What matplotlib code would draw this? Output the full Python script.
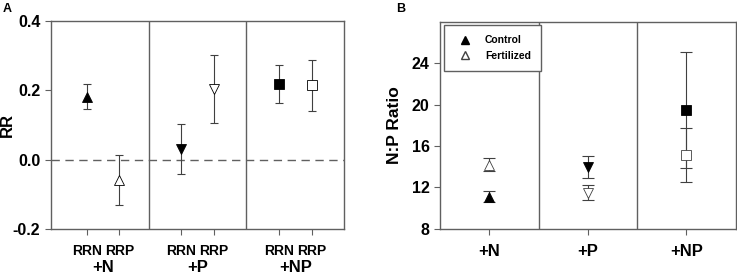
import numpy as np
import matplotlib
matplotlib.use("Agg")
import matplotlib.pyplot as plt
import matplotlib.transforms as mtransforms

plt.rcParams['font.family'] = ['Liberation Sans', 'DejaVu Sans']
plt.rcParams['font.weight'] = 'bold'

# Panel A data: response ratios
a_groups = ['+N', '+P', '+NP']
a_ticklabels = ['RRN', 'RRP', 'RRN', 'RRP', 'RRN', 'RRP']
a_pos = [1.1, 2.1, 4.0, 5.0, 7.0, 8.0]
a_vals = [0.182, -0.058, 0.031, 0.205, 0.218, 0.214]
a_err = [0.037, 0.072, 0.073, 0.098, 0.054, 0.073]
a_marker = ['^', '^', 'v', 'v', 's', 's']
a_fill = ['black', 'white', 'black', 'white', 'black', 'white']

# Panel B data: N:P ratio
b_groups = ['+N', '+P', '+NP']
b_pos = [0.5, 1.5, 2.5]
b_control = [11.1, 13.95, 19.45]
b_control_err = [0.55, 1.05, 5.6]
b_fert = [14.2, 11.5, 15.12]
b_fert_err = [0.6, 0.75, 2.6]
b_marker = ['^', 'v', 's']

gray = '#606060'

fig = plt.figure(figsize=(7.37, 2.76), dpi=100)
axA = fig.add_axes([0.069, 0.170, 0.398, 0.754])
axB = fig.add_axes([0.597, 0.171, 0.401, 0.750])

def style(ax):
    for s in ax.spines.values():
        s.set_color(gray)
        s.set_linewidth(1.0)
    ax.tick_params(axis='both', colors=gray, length=4, width=0.8, direction='out')
    ax.tick_params(axis='both', labelcolor='black')

# ---- A ----
style(axA)
for x, v, e, m, f in zip(a_pos, a_vals, a_err, a_marker, a_fill):
    axA.errorbar(x, v, yerr=e, fmt='none', ecolor='#404040', elinewidth=0.8,
                 capsize=3, capthick=0.8, zorder=2)
    axA.plot(x, v, marker=m, ms=7 if m != 's' else 6.5, mfc=f, mec='black',
             mew=0.6, ls='none', zorder=3)
axA.axhline(0, color=gray, ls=(0, (6, 4)), lw=1.0, zorder=1)
for d in [3, 6]:
    axA.axvline(d, color=gray, lw=1.0)
axA.set_xlim(0, 9)
axA.set_ylim(-0.2, 0.4)
axA.set_yticks([-0.2, 0.0, 0.2, 0.4])
axA.set_yticklabels(['-0.2', '0.0', '0.2', '0.4'], fontsize=11.5, fontweight='bold')
axA.set_xticks(a_pos)
axA.set_xticklabels(a_ticklabels, fontsize=10, fontweight='bold')
axA.tick_params(axis='x', pad=7)
axA.set_ylabel('RR', fontsize=12, fontweight='bold')
axA.yaxis.set_label_coords(-0.122, 0.5)
trA = mtransforms.blended_transform_factory(axA.transData, axA.transAxes)
for i, g in enumerate(a_groups):
    axA.text((a_pos[2 * i] + a_pos[2 * i + 1]) / 2, -0.183, g, transform=trA,
             ha='center', va='center', fontsize=12, fontweight='bold')
fig.text(0.004, 0.99, 'A', fontsize=9, fontweight='bold', va='top')

# ---- B ----
style(axB)
for i, x in enumerate(b_pos):
    axB.errorbar(x, b_control[i], yerr=b_control_err[i], fmt='none', ecolor='#404040',
                 elinewidth=0.8, capsize=4, capthick=0.8, zorder=2)
    axB.errorbar(x, b_fert[i], yerr=b_fert_err[i], fmt='none', ecolor='#404040',
                 elinewidth=0.8, capsize=4, capthick=0.8, zorder=2)
    ms = 7 if b_marker[i] != 's' else 6.5
    axB.plot(x, b_control[i], marker=b_marker[i], ms=ms, mfc='black', mec='black',
             mew=0.6, ls='none', zorder=3)
    axB.plot(x, b_fert[i], marker=b_marker[i], ms=ms, mfc='white', mec='#404040',
             mew=0.6, ls='none', zorder=3)
for d in [1, 2]:
    axB.axvline(d, color=gray, lw=1.0)
axB.set_xlim(0, 3)
axB.set_ylim(8, 28)
axB.set_yticks([8, 12, 16, 20, 24])
axB.set_yticklabels(['8', '12', '16', '20', '24'], fontsize=11.5, fontweight='bold')
axB.set_xticks(b_pos)
axB.set_xticklabels(b_groups, fontsize=12, fontweight='bold')
axB.tick_params(axis='x', pad=7)
axB.set_ylabel('N:P Ratio', fontsize=12.5, fontweight='bold')
axB.yaxis.set_label_coords(-0.128, 0.5)
h1, = axB.plot([], [], marker='^', ms=6, mfc='black', mec='black', ls='none')
h2, = axB.plot([], [], marker='^', ms=6, mfc='white', mec='#404040', ls='none')
leg = axB.legend([h1, h2], ['Control', 'Fertilized'], loc='upper left',
                 bbox_to_anchor=(0.015, 0.985), fancybox=False, framealpha=1,
                 prop={'size': 7.5, 'weight': 'bold'}, borderpad=1.0,
                 labelspacing=0.5, handletextpad=0.9, borderaxespad=0)
leg.get_frame().set_edgecolor(gray)
leg.get_frame().set_linewidth(1.0)
fig.text(0.537, 0.99, 'B', fontsize=9, fontweight='bold', va='top')

fig.savefig('out.png', dpi=100)
